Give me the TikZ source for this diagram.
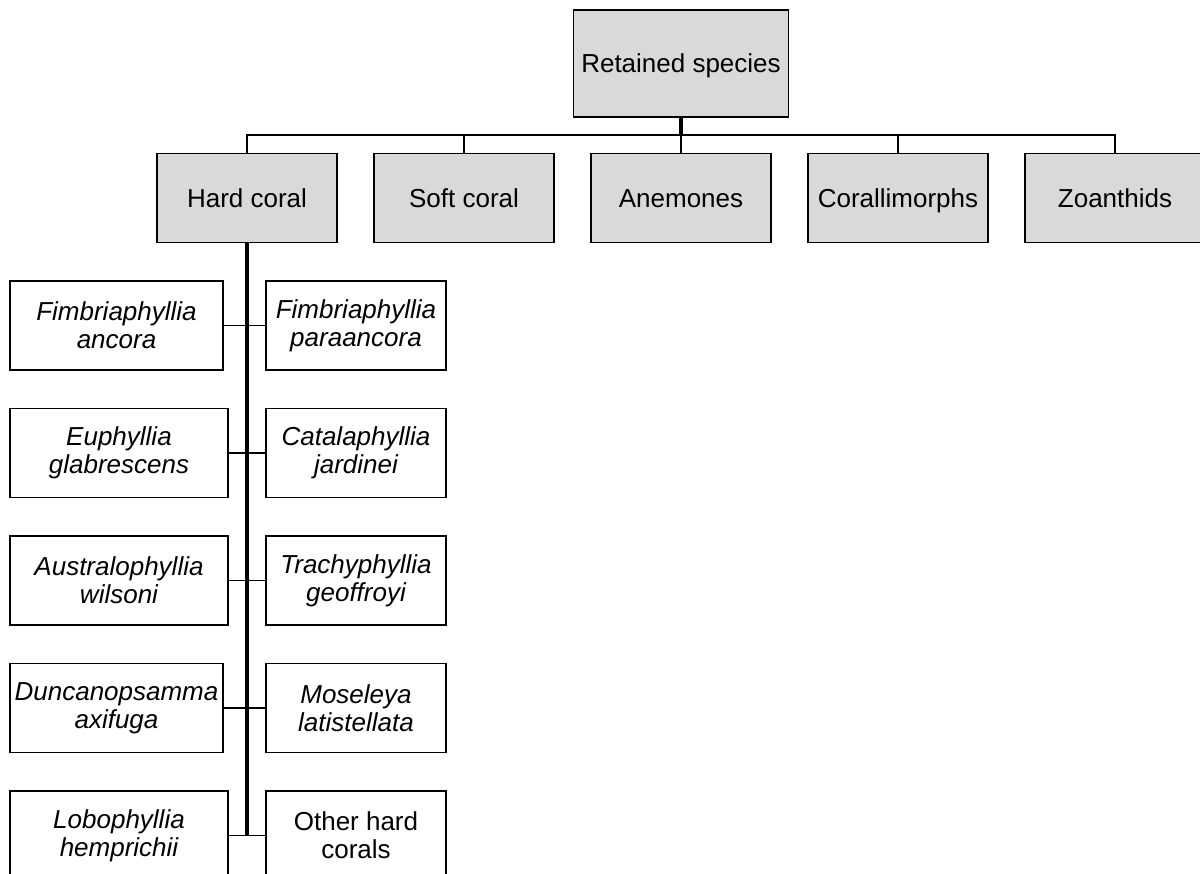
\documentclass[tikz,border=0pt]{standalone}
\usepackage{fontspec}
\setmainfont{Liberation Sans}
\usetikzlibrary{positioning}
\definecolor{grisCaja}{HTML}{D9D9D9}

\begin{document}
\begin{tikzpicture}[x=0.75pt, y=-0.75pt, font=\fontsize{19.5}{21}\selectfont,
        node distance=28.9pt and 27.75pt,
        grupo/.style={draw, fill=grisCaja, line width=1.1pt, outer sep=0pt, inner sep=1pt,
            minimum width=135pt, minimum height=66.75pt, text height=18pt, text depth=4pt, align=center},
        especie/.style={draw, fill=white, line width=1.1pt, outer sep=0pt, inner sep=1pt,
            minimum width=135pt, minimum height=66.75pt, align=center, font=\fontsize{19.5}{21}\selectfont\itshape},
        rama/.style={line width=1pt},
        tronco/.style={line width=2.4pt}]
        \clip (0,0) rectangle (1200,874);
        \coordinate (bus) at (0,135);
        \coordinate (borde) at (10,0);
        % niveles superiores
        \node[grupo, minimum width=161.25pt, minimum height=80.25pt] (ret) at (681,63.5) {Retained species};
        \node[grupo] (hc) at (247,198) {Hard coral};
        \node[grupo, right=of hc] (sc) {Soft coral};
        \node[grupo, right=of sc] (an) {Anemones};
        \node[grupo, right=of an] (co) {Corallimorphs};
        \node[grupo, right=of co] (zo) {Zoanthids};
        % especies de coral duro
        \node[especie] (fp) at (356,325.5) {Fimbriaphyllia\\paraancora};
        \node[especie, below=of fp] (cj) {Catalaphyllia\\jardinei};
        \node[especie, below=of cj] (tg) {Trachyphyllia\\geoffroyi};
        \node[especie, below=of tg] (ml) {Moseleya\\latistellata};
        \node[especie, below=of ml, font=\fontsize{19.5}{21}\selectfont] (oh) {Other hard\\corals};
        \node[especie, anchor=west, minimum width=159.75pt] (fa) at (borde |- fp) {Fimbriaphyllia\\ancora};
        \node[especie, anchor=west, minimum width=163.5pt] (eg) at (borde |- cj) {Euphyllia\\glabrescens};
        \node[especie, anchor=west, minimum width=163.5pt] (aw) at (borde |- tg) {Australophyllia\\wilsoni};
        \node[especie, anchor=west, minimum width=159.75pt] (da) at (borde |- ml) {Duncanopsamma\\axifuga};
        \node[especie, anchor=west, minimum width=163.5pt] (lh) at (borde |- oh) {Lobophyllia\\hemprichii};
        % conectores
        \draw[tronco] (ret.south) -- (ret.south |- bus);
        \draw[rama] (hc.north) |- (zo.north |- bus) -- (zo.north);
        \foreach \g in {sc, an, co}
            \draw[rama] (\g.north) -- (\g.north |- bus);
        \draw[tronco] (hc.south) -- (hc.south |- oh.west);
        \foreach \a/\b in {fa/fp, eg/cj, aw/tg, da/ml, lh/oh}
            \draw[rama] (\a.east) -- (\b.west);
    \end{tikzpicture}
\end{document}
